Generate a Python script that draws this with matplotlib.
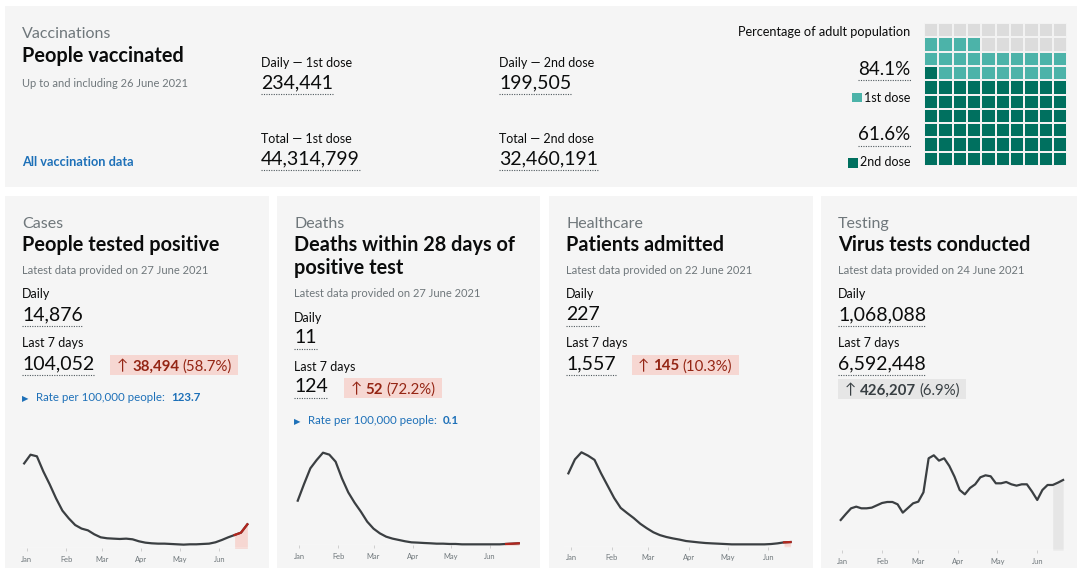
import numpy as np
import pandas as pd
import matplotlib
matplotlib.use("Agg")
import matplotlib.pyplot as plt
import matplotlib.dates as mdates
from matplotlib.patches import Rectangle
from matplotlib.colors import ListedColormap

# ---------------- data ----------------
vacc_labels = ["Daily — 1st dose", "Daily — 2nd dose", "Total — 1st dose", "Total — 2nd dose"]
vacc_values = [234441, 199505, 44314799, 32460191]
pct_first = 84.1
pct_second = 61.6

card_categories = ["Cases", "Deaths", "Healthcare", "Testing"]
card_titles = [["People tested positive"], ["Deaths within 28 days of", "positive test"],
               ["Patients admitted"], ["Virus tests conducted"]]
card_dates = ["27 June 2021", "27 June 2021", "22 June 2021", "24 June 2021"]
daily_values = [14876, 11, 227, 1068088]
week_values = [104052, 124, 1557, 6592448]
week_change = [38494, 52, 145, 426207]
week_change_pct = [58.7, 72.2, 10.3, 6.9]
rate_values = [123.7, 0.1, None, None]

month_labels = ["Jan", "Feb", "Mar", "Apr", "May", "Jun"]

cases_start, cases_step = "2020-12-30", 5
cases_values = [52500, 57900, 56900, 47600, 39600, 30900, 23300, 18500, 14400, 12200,
                11100, 8650, 6800, 6200, 5970, 5770, 5970, 5560, 4330, 3500,
                3090, 2880, 2880, 2680, 2470, 2270, 2470, 2470, 2680, 2880,
                3710, 5150, 6800, 8240, 9680, 14830]

deaths_start, deaths_step = "2020-12-31", 5
deaths_values = [600, 824, 1035, 1147, 1245, 1219, 1124, 900, 712, 573,
                 452, 318, 224, 161, 116, 90, 72, 54, 40, 36,
                 31, 27, 22, 22, 18, 18, 13, 13, 13, 13,
                 13, 13, 13, 18, 22, 27]

health_start, health_step = "2020-12-30", 5
health_values = [3100, 3690, 3990, 3850, 3670, 3100, 2580, 2060, 1640, 1420,
                 1210, 970, 780, 610, 490, 410, 350, 300, 240, 210,
                 180, 155, 140, 127, 113, 99, 99, 99, 99, 99,
                 99, 113, 141, 183, 197]

tests_start, tests_step = "2020-12-31", 4
tests_values = [403650, 484380, 560600, 583000, 560600, 560600, 569600, 601000, 632400, 645800,
                645800, 614400, 502300, 565100, 627900, 650300, 775900, 1233400, 1273700, 1202000,
                1233400, 1130200, 986700, 807300, 749000, 834200, 883500, 977700, 1004600, 991200,
                897000, 897000, 914900, 883500, 865600, 883500, 883500, 784900, 672800, 807300,
                874600, 874600, 906000, 941800]

# ---------------- style ----------------
W, H = 1080, 568
DARK = "#0b0c0c"
GREY = "#6f777b"
BLUE = "#1d70b8"
PANEL = "#f5f5f5"
LINE = "#3b3f42"
RED = "#b3261e"
RED_TXT = "#942514"
RED_BOX = "#f6d7d2"
GREY_BOX = "#e6e6e6"
GREY_TXT = "#383f43"
WAFFLE_COLS = ["#dcdcdc", "#4cb3a9", "#00705f"]

plt.rcParams["font.family"] = ["Lato", "DejaVu Sans"]

fig = plt.figure(figsize=(W / 100, H / 100), dpi=100)
fig.patch.set_facecolor("white")
bg = fig.add_axes([0, 0, 1, 1])
bg.set_xlim(0, W)
bg.set_ylim(H, 0)
bg.axis("off")
renderer = fig.canvas.get_renderer()


def T(x, y, s, size, color=DARK, weight="normal", ha="left"):
    return bg.text(x, y, s, fontsize=size, color=color, fontweight=weight,
                   ha=ha, va="baseline")


def ext(t):
    bb = t.get_window_extent(renderer)
    return bb.x0, bb.x1


def uline(t, y):
    a, b = ext(t)
    bg.plot([a, b], [y, y], color="#505a5f", lw=0.8, ls=(0, (1, 1.2)))


def segbox(x, top, bottom, base, parts, fc, size=10.8, lpad=6.5, rpad=7):
    cx = x + lpad
    for s, col, wt, gap in parts:
        t = T(cx, base, s, size, col, wt)
        cx = ext(t)[1] + gap
    bg.add_patch(Rectangle((x, top), cx + rpad - x, bottom - top, fc=fc, ec="none", zorder=0.5))


# ---------------- top panel ----------------
bg.add_patch(Rectangle((5, 6), 1072, 181, fc=PANEL, ec="none", zorder=0))
T(22, 38.5, "Vaccinations", 11.5, GREY)
T(22, 61.7, "People vaccinated", 14.3, DARK, "bold")
T(22, 86.7, "Up to and including 26 June 2021", 8.0, GREY)
T(22, 166, "All vaccination data", 9.2, BLUE, "bold")

vx = [261, 499, 261, 499]
vy = [66.7, 66.7, 142.7, 142.7]
for lab, val, x, y in zip(vacc_labels, vacc_values, vx, vy):
    T(x, y, lab, 9, DARK)
    t = T(x, y + 21.6, f"{val:,}", 14, DARK)
    uline(t, y + 27.6)

RX = 910.7
T(RX, 36, "Percentage of adult population", 9.2, DARK, ha="right")
t = T(RX, 75, f"{pct_first}%", 13.5, DARK, ha="right")
uline(t, 80)
t = T(RX, 101.7, "1st dose", 9, DARK, ha="right")
a, _ = ext(t)
bg.add_patch(Rectangle((a - 12, 93.3), 10, 9, fc=WAFFLE_COLS[1], ec="none"))
t = T(RX, 140, f"{pct_second}%", 13.5, DARK, ha="right")
uline(t, 145.7)
t = T(RX, 166, "2nd dose", 9, DARK, ha="right")
a, _ = ext(t)
bg.add_patch(Rectangle((a - 12, 157.7), 10, 10, fc=WAFFLE_COLS[2], ec="none"))

# waffle
grid = np.zeros((10, 10))
n2, n1 = int(pct_second), int(pct_first)
for k in range(100):
    r, c = divmod(k, 10)
    grid[r, c] = 2 if k < n2 else (1 if k < n1 else 0)
wx0, wx1, wy0, wy1 = 924, 1067.5, 23, 166
wax = fig.add_axes([wx0 / W, (H - wy1) / H, (wx1 - wx0) / W, (wy1 - wy0) / H])
wax.pcolormesh(np.arange(11), np.arange(11), grid, cmap=ListedColormap(WAFFLE_COLS),
               vmin=-0.5, vmax=2.5, edgecolors="#f2f2f2", linewidth=1.1)
wax.set_xlim(0, 10)
wax.set_ylim(0, 10)
wax.axis("off")

# ---------------- cards ----------------
card_x = [(5, 269), (277, 540), (549, 813), (821, 1077)]
text_x = [22, 294, 566, 838]
for (a, b) in card_x:
    bg.add_patch(Rectangle((a, 196), b - a, 400, fc=PANEL, ec="none", zorder=0))

for i in range(4):
    x = text_x[i]
    T(x, 227.7, card_categories[i], 11.5, GREY)
    for j, line in enumerate(card_titles[i]):
        T(x, 251 + 23.3 * j, line, 14.3, DARK, "bold")
    e = 23.3 * (len(card_titles[i]) - 1)
    T(x, 274 + e, f"Latest data provided on {card_dates[i]}", 8.0, GREY)
    T(x, 298.3 + e, "Daily", 9, DARK)
    t = T(x, 320 + e, f"{daily_values[i]:,}", 14, DARK)
    uline(t, 326 + e)
    T(x, 347.3 + e, "Last 7 days", 9, DARK)
    t = T(x, 369 + e, f"{week_values[i]:,}", 14, DARK)
    uline(t, 375 + e)
    if i < 3:
        bx = ext(t)[1] + 16
        segbox(bx, 355 + e, 375 + e, 370.5 + e,
               [("↑", RED_TXT, "normal", 4), (f"{week_change[i]:,}", RED_TXT, "bold", 3),
                (f"({week_change_pct[i]}%)", RED_TXT, "normal", 0)], RED_BOX)
    else:
        segbox(x, 379 + e, 399 + e, 394.5 + e,
               [("↑", GREY_TXT, "normal", 4), (f"{week_change[i]:,}", GREY_TXT, "bold", 3),
                (f"({week_change_pct[i]}%)", GREY_TXT, "normal", 0)], GREY_BOX)
    if rate_values[i] is not None:
        T(x, 400.7 + e, "▶", 6, BLUE)
        t = T(x + 14, 400.7 + e, "Rate per 100,000 people:", 8.3, BLUE)
        T(ext(t)[1] + 6, 400.7 + e, f"{rate_values[i]}", 8.3, BLUE, "bold")

# ---------------- sparkline charts ----------------
JAN1 = mdates.date2num(pd.Timestamp("2021-01-01"))
month_ticks = [mdates.date2num(pd.Timestamp(f"2021-{m:02d}-01")) for m in range(1, 7)]


def chart(start, step, values, jan_px, ppd, base_px, top_px, hl_days, hl_line, hl_fill):
    vals = np.array(values, dtype=float)
    dates = pd.date_range(start, periods=len(vals), freq=f"{step}D")
    xn = mdates.date2num(dates)
    x0, x1 = xn[0] - 3, xn[-1] + 3
    left = jan_px + ppd * (x0 - JAN1)
    right = jan_px + ppd * (x1 - JAN1)
    ax = fig.add_axes([left / W, (H - base_px) / H, (right - left) / W, (base_px - top_px) / H])
    ax.set_xlim(x0, x1)
    ax.set_ylim(0, vals.max())
    ax.patch.set_alpha(0)
    for s in ax.spines.values():
        s.set_visible(False)
    hl = xn >= xn[-1] - hl_days
    ax.fill_between(xn[hl], vals[hl], 0, color=hl_fill, lw=0, zorder=1)
    ax.axhline(0, color="white", lw=1, zorder=1.5)
    ax.plot(xn, vals, color=LINE, lw=1.6, clip_on=False, zorder=2, solid_joinstyle="round")
    if hl_line is not None:
        ax.plot(xn[hl], vals[hl], color=hl_line, lw=1.6, clip_on=False, zorder=3)
    ax.set_yticks([])
    ax.set_xticks(month_ticks)
    ax.set_xticklabels(month_labels)
    ax.tick_params(axis="x", length=2, width=0.6, color="#c8c8c8", labelsize=5.4,
                   labelcolor=GREY, pad=3.5)
    return ax


chart(cases_start, cases_step, cases_values, 26.7, 1.2755, 548.3, 454.7, 10, RED, RED_BOX)
chart(deaths_start, deaths_step, deaths_values, 299.0, 1.263, 545.3, 452.7, 10, RED, RED_BOX)
chart(health_start, health_step, health_values, 571.0, 1.307, 546.7, 452.3, 9, RED, RED_BOX)
chart(tests_start, tests_step, tests_values, 842.0, 1.293, 550.0, 455.3, 10, None, GREY_BOX)

fig.savefig("out.png", dpi=100, facecolor="white")
